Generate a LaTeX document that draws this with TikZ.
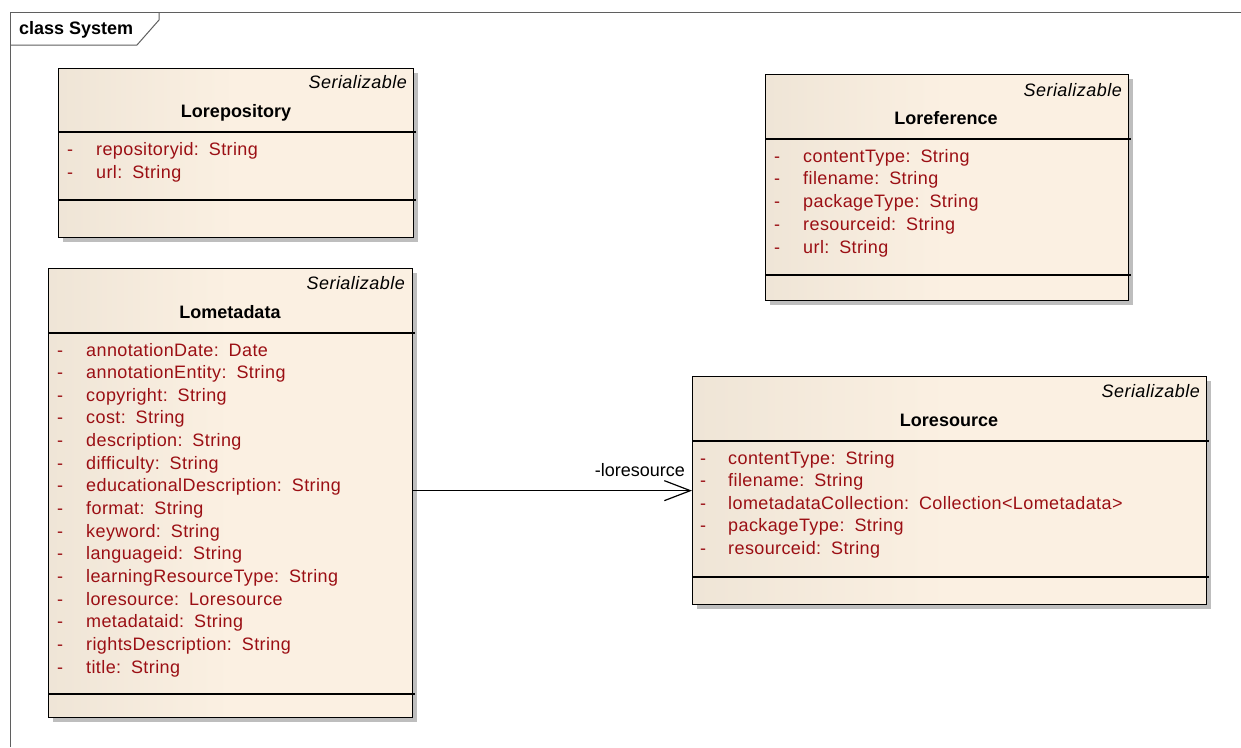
\documentclass[tikz,border=0pt]{standalone}
\usepackage{fontspec}
\setmainfont{Liberation Sans}[UprightFeatures={LetterSpace=2.2}, ItalicFeatures={LetterSpace=2.6}]
\newfontfamily\labelfont{Liberation Sans}
\usetikzlibrary{arrows.meta}
\definecolor{attrc}{RGB}{155,15,20}
\definecolor{bgL}{RGB}{227,218,203}
\definecolor{bgR}{RGB}{251,240,226}
\definecolor{shadowc}{RGB}{190,190,190}
\definecolor{framec}{RGB}{95,95,95}
\pgfdeclarehorizontalshading{umlbg}{100bp}{color(0bp)=(bgL); color(50bp)=(bgR); color(100bp)=(bgR)}
\newcommand{\colgap}{\hspace{0.55em}}
\tikzset{
  classbox/.style={draw=black, line width=1.3pt, shading=umlbg, inner sep=0pt, anchor=north west},
  shadowbox/.style={fill=shadowc, draw=none},
  sepline/.style={draw=black, line width=1.2pt},
  stereo/.style={anchor=base east, inner sep=0pt, font=\fontsize{18}{22}\selectfont\itshape},
  cname/.style={anchor=base, inner sep=0pt, font=\fontsize{18}{22}\selectfont\bfseries},
  attrtext/.style={anchor=base west, inner sep=0pt, text=attrc},
  assoc/.style={draw=black, line width=1.2pt, -{Straight Barb[length=26pt, width=20pt, line width=1.2pt]}},
}
\begin{document}
\begin{tikzpicture}[x=1pt, y=-1pt, font=\fontsize{18}{22}\selectfont]
\useasboundingbox (0,0) rectangle (1241,747);
\fill[white] (0,0) rectangle (1241,747);
% frame
\draw[framec, line width=1pt] (10,747) -- (10,12) -- (1241,12);
\draw[framec, line width=1pt] (10,45) -- (137,45) -- (159,20) -- (159,12);
\node[anchor=base west, inner sep=0pt, font=\fontsize{18}{22}\selectfont\bfseries] (frametitle) at (19,34) {class System};

% ---------- Lorepository
\fill[shadowbox] (63,73) rectangle (418,242);
\node[classbox, minimum width=355, minimum height=169] (repo) at (58,68) {};
\draw[sepline] (58,132) -- (416,132);
\draw[sepline] (58,200) -- (416,200);
\node[stereo] (repo-st) at (407,88) {Serializable};
\node[cname] (repo-nm) at (236,117) {Lorepository};
\foreach \t [count=\i from 0] in {repositoryid:\colgap String, url:\colgap String} {
  \node[attrtext] (repo-d\i) at (67,{155+23*\i}) {-};
  \node[attrtext] (repo-a\i) at (96,{155+23*\i}) {\t};
}

% ---------- Lometadata
\fill[shadowbox] (53,273) rectangle (417,722);
\node[classbox, minimum width=364, minimum height=449] (meta) at (48,268) {};
\draw[sepline] (48,333) -- (415,333);
\draw[sepline] (48,694) -- (415,694);
\node[stereo] (meta-st) at (405,289) {Serializable};
\node[cname] (meta-nm) at (230,318) {Lometadata};
\foreach \t [count=\i from 0] in {annotationDate:\colgap Date, annotationEntity:\colgap String, copyright:\colgap String, cost:\colgap String, description:\colgap String, difficulty:\colgap String, educationalDescription:\colgap String, format:\colgap String, keyword:\colgap String, languageid:\colgap String, learningResourceType:\colgap String, loresource:\colgap Loresource, metadataid:\colgap String, rightsDescription:\colgap String, title:\colgap String} {
  \node[attrtext] (meta-d\i) at (57,{356+22.65*\i}) {-};
  \node[attrtext] (meta-a\i) at (86,{356+22.65*\i}) {\t};
}

% ---------- Loreference
\fill[shadowbox] (770,79) rectangle (1133,305);
\node[classbox, minimum width=363, minimum height=226] (ref) at (765,74) {};
\draw[sepline] (765,139) -- (1131,139);
\draw[sepline] (765,275) -- (1131,275);
\node[stereo] (ref-st) at (1122,96) {Serializable};
\node[cname] (ref-nm) at (946,124) {Loreference};
\foreach \t [count=\i from 0] in {contentType:\colgap String, filename:\colgap String, packageType:\colgap String, resourceid:\colgap String, url:\colgap String} {
  \node[attrtext] (ref-d\i) at (774,{162+22.75*\i}) {-};
  \node[attrtext] (ref-a\i) at (803,{162+22.75*\i}) {\t};
}

% ---------- Loresource
\fill[shadowbox] (697,381) rectangle (1211,609);
\node[classbox, minimum width=514, minimum height=228] (res) at (692,376) {};
\draw[sepline] (692,441) -- (1209,441);
\draw[sepline] (692,577) -- (1209,577);
\node[stereo] (res-st) at (1200,397) {Serializable};
\node[cname] (res-nm) at (949,426) {Loresource};
\foreach \t [count=\i from 0] in {contentType:\colgap String, filename:\colgap String, lometadataCollection:\colgap Collection<Lometadata>, packageType:\colgap String, resourceid:\colgap String} {
  \node[attrtext] (res-d\i) at (700,{464+22.5*\i}) {-};
  \node[attrtext] (res-a\i) at (728,{464+22.5*\i}) {\t};
}

% ---------- association
\draw[assoc] (meta.east |- res.west) -- (res.west);
\node[anchor=base east, inner sep=0pt, font=\fontsize{18}{22}\selectfont\labelfont] (assoc-lbl) at (685,476) {-loresource};
\end{tikzpicture}
\end{document}
